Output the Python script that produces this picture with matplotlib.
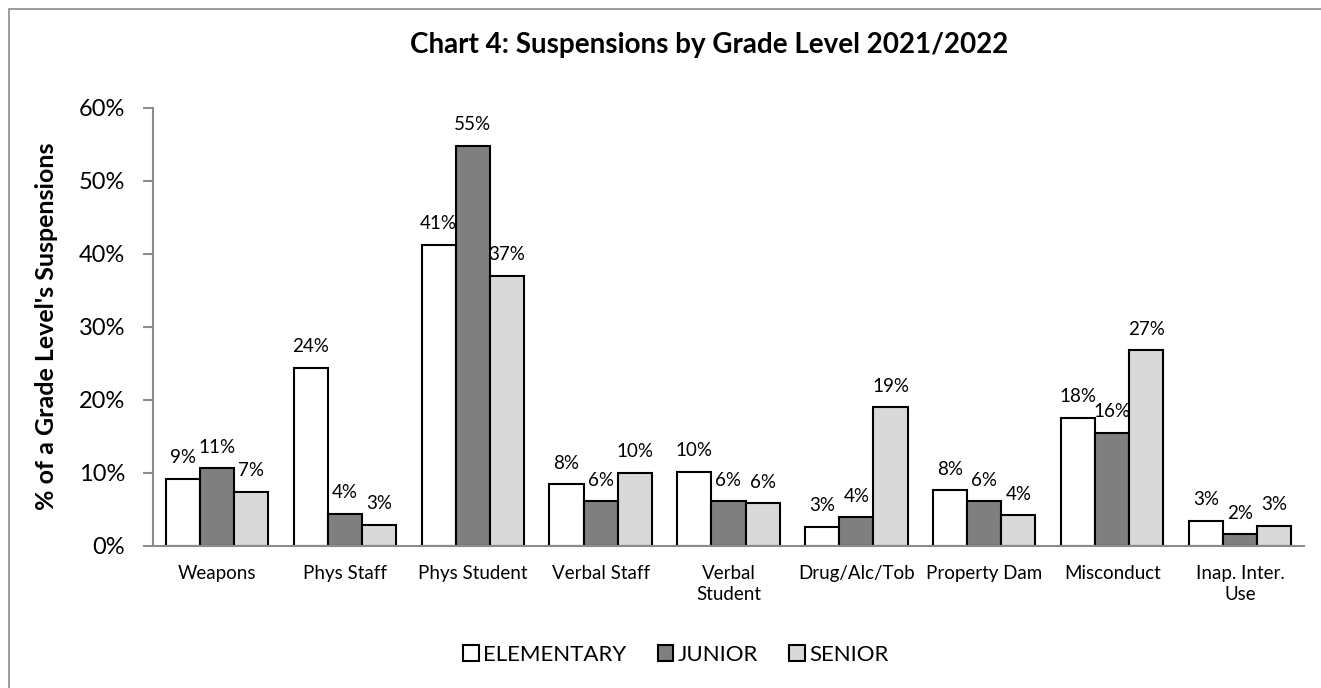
import numpy as np
import matplotlib.pyplot as plt
from matplotlib.patches import Rectangle

# data (fractions)
categories = ["Weapons", "Phys Staff", "Phys Student", "Verbal Staff", "Verbal\nStudent",
              "Drug/Alc/Tob", "Property Dam", "Misconduct", "Inap. Inter.\nUse"]
elementary = [0.092, 0.244, 0.412, 0.084, 0.101, 0.026, 0.076, 0.175, 0.034]
junior = [0.106, 0.044, 0.548, 0.061, 0.061, 0.039, 0.061, 0.155, 0.016]
senior = [0.074, 0.029, 0.370, 0.100, 0.058, 0.190, 0.042, 0.268, 0.027]
series_names = ["ELEMENTARY", "JUNIOR", "SENIOR"]

plt.rcParams['font.family'] = ['Lato', 'DejaVu Sans']

fig = plt.figure(figsize=(13.21, 6.88), dpi=100)
ax = fig.add_axes([153/1321, 1-545.7/688, (1304-153)/1321, (545.7-107.7)/688])

# outer chart border (only left/top visible in the reference)
fig.patches.append(Rectangle((9/1321, -0.1), 1.2, 1-9/688+0.1, transform=fig.transFigure,
                             fill=False, edgecolor='#8c8c8c', lw=1.2))

x = np.arange(len(categories))
w = 0.267
colors = ['white', '#7f7f7f', '#d9d9d9']
for i, (vals, name, c) in enumerate(zip([elementary, junior, senior], series_names, colors)):
    bars = ax.bar(x + (i - 1) * w, vals, w, color=c, edgecolor='black', lw=1.5, label=name)
    for b, v in zip(bars, vals):
        ax.annotate(f"{round(v*100):d}%", (b.get_x() + b.get_width()/2, v),
                    xytext=(0, 9), textcoords='offset points', ha='center', va='bottom',
                    fontsize=13.5)

ax.set_xlim(-0.5, len(categories) - 0.5)
ax.set_ylim(0, 0.6)
ax.set_yticks(np.arange(0, 0.61, 0.1))
ax.set_yticklabels([f"{int(round(t*100))}%" for t in np.arange(0, 0.61, 0.1)], fontsize=17)
ax.set_xticks(x)
ax.set_xticklabels(categories, fontsize=13.5, linespacing=1.25)
ax.tick_params(axis='x', length=0, pad=14)
ax.tick_params(axis='y', length=7, color='#8c8c8c', width=1.5, pad=13)
for s in ['top', 'right']:
    ax.spines[s].set_visible(False)
for s in ['left', 'bottom']:
    ax.spines[s].set_color('#8c8c8c')
    ax.spines[s].set_linewidth(1.5)

ax.set_ylabel("% of a Grade Level's Suspensions", fontsize=18, fontweight='bold')
ax.yaxis.set_label_coords((58 - 153) / 1151, 0.5)
fig.text(0.537, 1-45/688, "Chart 4: Suspensions by Grade Level 2021/2022", ha='center', va='center',
         fontsize=20, fontweight='bold')

fig.legend(loc='center', bbox_to_anchor=(676/1321, 1-655/688), ncol=3, frameon=False, fontsize=16,
           handlelength=0.7, handleheight=0.7, handletextpad=0.2, columnspacing=1.4)

fig.savefig('out.png', dpi=100)
